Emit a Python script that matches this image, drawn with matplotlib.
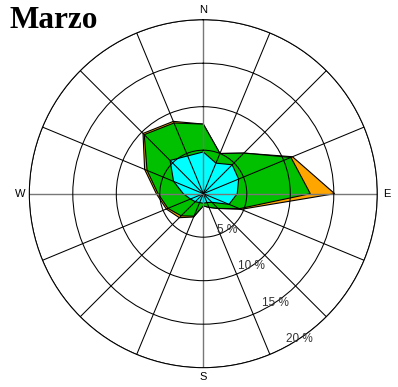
import matplotlib
matplotlib.use('Agg')
import matplotlib.pyplot as plt
import numpy as np

# 16 compass sectors, clockwise from north
directions = ['N', 'NNE', 'NE', 'ENE', 'E', 'ESE', 'SE', 'SSE',
              'S', 'SSW', 'SW', 'WSW', 'W', 'WNW', 'NW', 'NNW']
bearings = np.arange(0, 360, 22.5)

# frequency (%) of each speed class per sector
freq_low = [4.8, 3.8, 4.7, 4.4, 3.9, 3.2, 1.4, 1.1, 1.1, 1.1, 1.3, 1.6, 2.3, 3.7, 5.4, 4.7]
freq_mid = [3.2, 1.2, 1.9, 6.5, 8.4, 1.3, 1.0, 0.6, 0.3, 1.7, 2.3, 2.8, 2.9, 3.3, 4.2, 4.1]
freq_high = [0.0, 0.0, 0.0, 0.2, 2.8, 0.2, 0.0, 0.0, 0.0, 0.1, 0.3, 0.2, 0.2, 0.3, 0.2, 0.2]

rings = [5, 10, 15, 20]
ring_label_bearing = 146.5
month = 'Marzo'

class_colors = ['#00FFFF', '#00C000', '#FFA500']

fig = plt.figure(figsize=(3.98, 3.87), dpi=100)
ax = fig.add_axes([0.0736, 0.0499, 0.8744, 0.8992], projection='polar')
ax.set_theta_zero_location('N')
ax.set_theta_direction(-1)

theta = np.deg2rad(np.append(bearings, bearings[0]))

# stacked classes: outermost polygon drawn first
stack = [np.array(freq_low)]
stack.append(stack[-1] + np.array(freq_mid))
stack.append(stack[-1] + np.array(freq_high))
for vals, col in reversed(list(zip(stack, class_colors))):
    r = np.append(vals, vals[0])
    ax.fill(theta, r, facecolor=col, edgecolor='black', linewidth=0.8, zorder=1)

ax.set_ylim(0, rings[-1])
ax.set_yticks(rings)
ax.set_yticklabels([])
for r in rings:
    ax.text(np.deg2rad(ring_label_bearing), r, f'{r} %', ha='center', va='center',
            fontsize=8.5, color='#333333', family='Liberation Sans', zorder=5)

# gridlines on every sector, cardinal labels placed just outside the rim
ax.set_xticks(np.deg2rad(bearings))
ax.set_xticklabels([])
ax.tick_params(axis='x', length=0)
for b, d in zip(bearings, directions):
    if len(d) == 1:
        ax.text(np.deg2rad(b), rings[-1] * 1.055, d, ha='center', va='center',
                fontsize=8, family='Liberation Sans', clip_on=False)

ax.grid(True, color='black', linewidth=0.75)
for i, gl in enumerate(ax.xaxis.get_gridlines()):
    if directions[i] in ('N', 'E', 'S', 'W'):
        gl.set_color('#777777')
        gl.set_linewidth(1.0)
ax.spines['polar'].set_linewidth(0.75)

fig.text(0.025, 1 - 28 / 387, month, ha='left', va='baseline', fontsize=22.5,
         family='Liberation Serif', weight='bold')

fig.savefig('out.png', dpi=100)
